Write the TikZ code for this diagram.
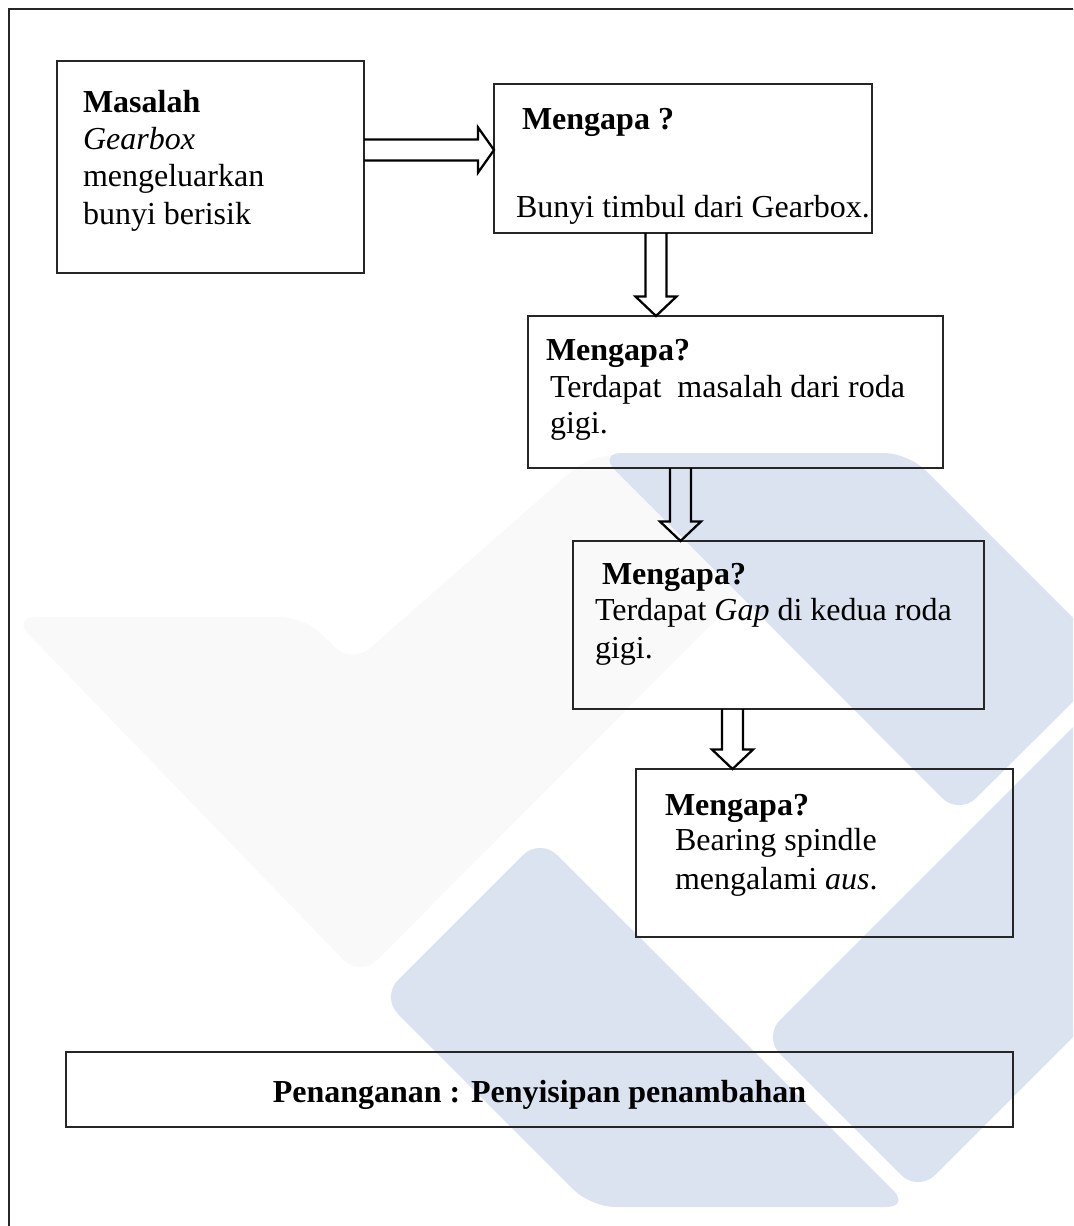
\documentclass[tikz,border=0pt]{standalone}
\usepackage{fontspec}
\setmainfont{Liberation Serif}
\usetikzlibrary{calc}
\definecolor{wmblue}{RGB}{219,227,241}
\definecolor{wmgrey}{RGB}{249,249,250}
% block arrow dimensions: half shaft width, half head width, head length
\newcommand\arrSW{3.94pt}
\newcommand\arrHW{7.69pt}
\newcommand\arrHL{7.3pt}
% hollow block arrow pointing down, from #1 (start) to #2 (tip)
\newcommand\arrowdown[2]{%
  \draw[blockarrow] let \p1=#1, \p2=#2 in
    (\x1-\arrSW,\y1) -- (\x1-\arrSW,\y2+\arrHL) -- (\x1-\arrHW,\y2+\arrHL) -- (\x2,\y2)
    -- (\x1+\arrHW,\y2+\arrHL) -- (\x1+\arrSW,\y2+\arrHL) -- (\x1+\arrSW,\y1);}
% hollow block arrow pointing right, from #1 (start) to #2 (tip)
\newcommand\arrowright[2]{%
  \draw[blockarrow] let \p1=#1, \p2=#2 in
    (\x1,\y1+\arrSW) -- (\x2-6pt,\y1+\arrSW) -- (\x2-6pt,\y1+\arrHW+0.8pt) -- (\x2,\y2)
    -- (\x2-6pt,\y1-\arrHW-0.8pt) -- (\x2-6pt,\y1-\arrSW) -- (\x1,\y1-\arrSW);}
\begin{document}
\begin{tikzpicture}[x=0.375pt,y=-0.375pt,
  box/.style={draw=black!85, line width=0.45pt, inner sep=0pt, outer sep=0pt, anchor=north west},
  txt/.style={inner sep=0pt, outer sep=0pt, anchor=base west, font=\fontsize{12pt}{14pt}\selectfont},
  blockarrow/.style={draw=black, line width=0.85pt, line join=miter},
  wmshape/.style={rounded corners=9pt, draw=none}]
\useasboundingbox (0,0) rectangle (1073,1226);
\clip (0,0) rectangle (1073,1226);
\fill[white] (0,0) rectangle (1073,1226);

% background logo
\fill[wmshape, wmgrey] (12,617) -- (304,617) -- (352,664) -- (590,455) -- (880,455) -- (360,977) -- cycle;
\fill[wmshape, wmblue] (598,453) -- (908,453) -- (1115,660) -- (959,815) -- cycle;
\fill[wmshape, wmblue] (540,838) -- (910,1207) -- (591,1207) -- (381,997) -- cycle;
\fill[wmshape, wmblue] (763,1037) -- (918,1192) -- (1240,870) -- (1240,560) -- cycle;

% page frame
\draw[line width=0.75pt, black!85] (9,1240) -- (9,9) -- (1090,9);

% boxes
\node[box, minimum width=307*0.375pt, minimum height=212*0.375pt] (b1) at (57,61) {};
\node[box, minimum width=378*0.375pt, minimum height=149*0.375pt] (b2) at (494,84) {};
\node[box, minimum width=415*0.375pt, minimum height=152*0.375pt] (b3) at (528,316) {};
\node[box, minimum width=411*0.375pt, minimum height=168*0.375pt] (b4) at (573,541) {};
\node[box, minimum width=377*0.375pt, minimum height=168*0.375pt] (b5) at (636,769) {};
\node[box, minimum width=947*0.375pt, minimum height=75*0.375pt] (b6) at (66,1052) {};

% texts
\node[txt] (t1a) at (83,113) {\textbf{Masalah}};
\node[txt] (t1b) at (83,150) {\textit{Gearbox}};
\node[txt] (t1c) at (83,187) {mengeluarkan};
\node[txt] (t1d) at (83,225) {bunyi berisik};

\node[txt] (t2a) at (522,130) {\textbf{Mengapa ?}};
\node[txt] (t2b) at (516,218) {Bunyi timbul dari Gearbox.};

\node[txt] (t3a) at (546,360) {\textbf{Mengapa?}};
\node[txt] (t3b) at (550,397) {Terdapat\ \ masalah dari roda};
\node[txt] (t3c) at (550,433) {gigi.};

\node[txt] (t4a) at (602,584) {\textbf{Mengapa?}};
\node[txt] (t4b) at (595,620) {Terdapat \textit{Gap} di kedua roda};
\node[txt] (t4c) at (595,658) {gigi.};

\node[txt] (t5a) at (665,815) {\textbf{Mengapa?}};
\node[txt] (t5b) at (675,850) {Bearing spindle};
\node[txt] (t5c) at (675,889) {mengalami \textit{aus}.};

\node[txt, anchor=base] (t6) at ($(b6.west)!0.5!(b6.east)+(0,13)$) {\textbf{Penanganan : Penyisipan penambahan}};

% arrows
\coordinate (a1s) at ($(b1.north east)+(0,89)$);
\coordinate (a1e) at (a1s -| b2.west);
\arrowright{(a1s)}{(a1e)}

\coordinate (a2s) at ($(b2.south west)+(162,0)$);
\coordinate (a2e) at (a2s |- b3.north);
\arrowdown{(a2s)}{(a2e)}

\coordinate (a3s) at ($(b3.south west)+(152.5,0)$);
\coordinate (a3e) at (a3s |- b4.north);
\arrowdown{(a3s)}{(a3e)}

\coordinate (a4s) at ($(b4.south west)+(159.5,0)$);
\coordinate (a4e) at (a4s |- b5.north);
\arrowdown{(a4s)}{(a4e)}
\end{tikzpicture}
\end{document}
